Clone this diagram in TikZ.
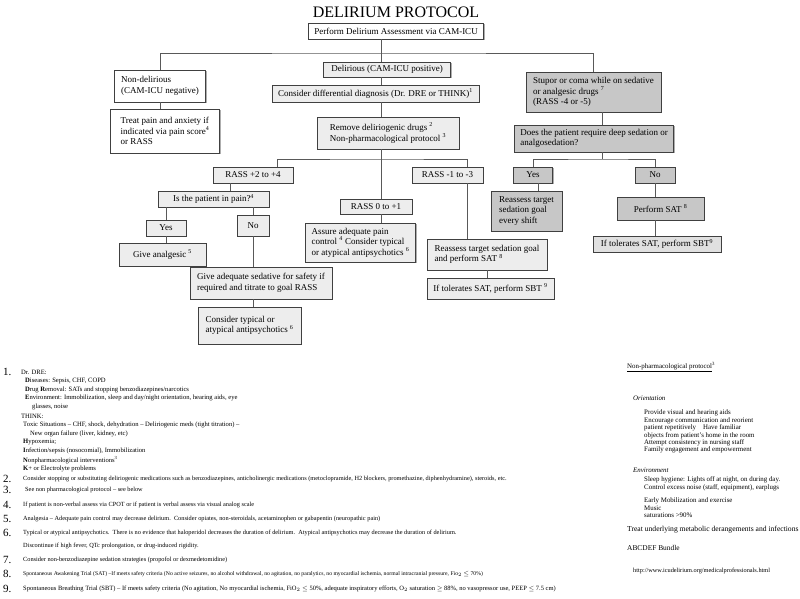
\documentclass[tikz,border=0pt]{standalone}
\usepackage{fontspec}
\setmainfont{Liberation Serif}
\usepackage{tikz}
\usetikzlibrary{
  calc,
  positioning,
  shadows
}

\newcommand\boxfont{\fontsize{9}{10.5}\selectfont}
\newcommand\notefont{\fontsize{6.3}{7.3}\selectfont}
\newcommand\drefont{\fontsize{6.6}{7.6}\selectfont}
\newcommand\sidefont{\fontsize{6.9}{7.9}\selectfont}
\newcommand\numfont{\fontsize{11}{12}\selectfont}

\tikzset{
  box/.style={draw=black!75,line width=0.7pt,inner xsep=6pt,inner ysep=2pt,font=\boxfont,align=left,
    drop shadow={shadow xshift=1.2pt,shadow yshift=-1.2pt,fill=black!45,opacity=0.7}},
  plainbox/.style={box,fill=white},
  lightbox/.style={box,fill=black!7},
  darkbox/.style={box,fill=black!22},
  wire/.style={draw=black!65,line width=0.8pt},
  note/.style={anchor=west,inner sep=0pt,font=\notefont},
  side/.style={anchor=west,inner sep=0pt,font=\sidefont}
}

\begin{document}
\begin{tikzpicture}[x=1pt,y=-1pt]
  \useasboundingbox (0,0) rectangle (800,599);
  \node[font=\fontsize{16}{18}\selectfont] at (396,12) (title) {DELIRIUM PROTOCOL};

  % assessment and first split
  \node[plainbox,minimum width=172pt,minimum height=16pt] at (396,31) (perform) {Perform Delirium Assessment via CAM-ICU};
  \node[plainbox,minimum width=91pt,minimum height=32pt] at (160,86) (nondel) {Non-delirious\\(CAM-ICU negative)};
  \node[plainbox,minimum width=109pt,minimum height=44pt] at (165,131) (treat) {Treat pain and anxiety if\\indicated via pain score\textsuperscript{4}\\or RASS};
  \node[lightbox,minimum width=127pt,minimum height=15pt] at (387,69.5) (delir) {Delirious (CAM-ICU positive)};
  \node[lightbox,minimum width=205pt,minimum height=17pt] at (375.5,93.5) (consider) {Consider differential diagnosis (Dr. DRE or THINK)\textsuperscript{1}};
  \node[lightbox,minimum width=142pt,minimum height=32pt] at (388,133) (remove) {Remove deliriogenic drugs \textsuperscript{2}\\Non-pharmacological protocol \textsuperscript{3}};
  \node[darkbox,minimum width=135pt,minimum height=40pt] at (593.5,92) (stupor) {Stupor or coma while on sedative\\or analgesic drugs \textsuperscript{7}\\(RASS -4 or -5)};
  \node[darkbox,minimum width=158pt,minimum height=27pt] at (594,138.5) (deep) {Does the patient require deep sedation or\\analgosedation?};

  % agitated branch
  \node[lightbox,minimum width=80pt,minimum height=16pt] at (253,175) (rassA) {RASS +2 to +4};
  \node[lightbox,minimum width=111pt,minimum height=16pt] at (213.5,199) (pain) {Is the patient in pain?\textsuperscript{4}};
  \node[lightbox,minimum width=40pt,minimum height=16pt] at (166,228) (yesL) {Yes};
  \node[lightbox,minimum width=32pt,minimum height=21pt] at (253,225.5) (noL) {No};
  \node[lightbox,minimum width=87pt,minimum height=23pt] at (162.5,254.5) (analg) {Give analgesic \textsuperscript{5}};
  \node[lightbox,minimum width=142pt,minimum height=32pt] at (261,283) (sedat) {Give adequate sedative for safety if\\required and titrate to goal RASS};
  \node[lightbox,minimum width=103pt,minimum height=37pt] at (249.5,325.5) (typical) {Consider typical or\\atypical antipsychotics \textsuperscript{6}};

  % calm and sedated branches
  \node[lightbox,minimum width=72pt,minimum height=15pt] at (376,206.5) (rassB) {RASS 0 to +1};
  \node[lightbox,minimum width=109pt,minimum height=39pt] at (360.5,242.5) (assure) {Assure adequate pain\\control \textsuperscript{4} Consider typical\\or atypical antipsychotics \textsuperscript{6}};
  \node[lightbox,minimum width=71pt,minimum height=16pt] at (447.5,175) (rassC) {RASS -1 to -3};
  \node[lightbox,minimum width=120pt,minimum height=31pt] at (487,254.5) (reassL) {Reassess target sedation goal\\and perform SAT \textsuperscript{8}};
  \node[lightbox,minimum width=127pt,minimum height=21pt] at (490.5,288.5) (sbtL) {If tolerates SAT, perform SBT \textsuperscript{9}};

  % stupor branch
  \node[darkbox,minimum width=39pt,minimum height=16pt] at (533,175) (yesR) {Yes};
  \node[darkbox,minimum width=40pt,minimum height=16pt] at (655,175) (noR) {No};
  \node[darkbox,minimum width=71pt,minimum height=40pt] at (526.5,211) (shift) {Reassess target\\sedation goal\\every shift};
  \node[darkbox,minimum width=87pt,minimum height=23pt] at (660.5,208.5) (sat) {Perform SAT \textsuperscript{8}};
  \node[box,fill=black!12,minimum width=128pt,minimum height=16pt] at (657,244) (sbtR) {If tolerates SAT, perform SBT\textsuperscript{9}};

  % connectors
  \coordinate (top) at (381,53);
  \coordinate (mid) at (381,159);
  \coordinate (rfork) at (602,159);
  \coordinate (rassAin) at (277,0);
  \coordinate (rassAout) at (230,0);
  \coordinate (rassCline) at (467,0);
  \coordinate (shiftin) at (538,0);
  \draw[wire] (top |- perform.south) -- (top);
  \draw[wire] (nondel.north) |- (top) -| (stupor.north);
  \draw[wire] (nondel.south) -- (nondel.south |- treat.north);
  \draw[wire] (top) -- (top |- delir.north);
  \draw[wire] (top |- delir.south) -- (top |- consider.north);
  \draw[wire] (top |- consider.south) -- (top |- remove.north);
  \draw[wire] (top |- remove.south) -- (top |- rassB.north);
  \draw[wire] (top |- rassB.south) -- (top |- assure.north);
  \draw[wire] (rassAin |- rassA.north) |- (mid) -| (rassCline |- rassC.north);
  \draw[wire] (rassCline |- rassC.south) -- (rassCline |- reassL.north);
  \draw[wire] (rassAout |- rassA.south) -- (rassAout |- pain.north);
  \draw[wire] (yesL.north |- pain.south) -- (yesL.north);
  \draw[wire] (noL.north |- pain.south) -- (noL.north);
  \draw[wire] (yesL.south) -- (yesL.south |- analg.north);
  \draw[wire] (noL.south) -- (noL.south |- sedat.north);
  \draw[wire] (noL.south |- sedat.south) -- (noL.south |- typical.north);
  \draw[wire] (reassL.south) -- (reassL.south |- sbtL.north);
  \draw[wire] (rfork |- stupor.south) -- (rfork |- deep.north);
  \draw[wire] (rfork |- deep.south) -- (rfork);
  \draw[wire] (yesR.north) |- (rfork) -| (noR.north);
  \draw[wire] (shiftin |- yesR.south) -- (shiftin |- shift.north);
  \draw[wire] (noR.south) -- (noR.south |- sat.north);
  \draw[wire] (noR.south |- sat.south) -- (noR.south |- sbtR.north);

  % footnotes
  \foreach \n/\y in {1/372,2/479,3/490,4/505,5/519,6/533,7/560,8/574,9/589}
    \node[font=\numfont,anchor=west,inner sep=0pt] (num\n) at (3,\y) {\n.};
  \foreach \t [count=\i] in {Dr. DRE:,
      {\hspace*{4pt}\textbf{D}iseases: Sepsis, CHF, COPD},
      {\hspace*{4pt}\textbf{D}rug \textbf{R}emoval: SATs and stopping benzodiazepines/narcotics},
      {\hspace*{4pt}\textbf{E}nvironment: Immobilization, sleep and day/night orientation, hearing aids, eye},
      {\hspace*{11pt}glasses, noise},
      THINK:,
      {\hspace*{2pt}Toxic Situations -- CHF, shock, dehydration -- Deliriogenic meds (tight titration) --},
      {\hspace*{9pt}New organ failure (liver, kidney, etc)},
      {\hspace*{2pt}\textbf{H}ypoxemia;},
      {\hspace*{2pt}\textbf{I}nfection/sepsis (nosocomial), Immobilization},
      {\hspace*{2pt}\textbf{N}onpharmacological interventions\textsuperscript{3}},
      {\hspace*{2pt}\textbf{K}+ or Electrolyte problems}}
    \node[note,font=\drefont] (dre\i) at (21,363.2+8.8*\i) {\t};
  \node[note] (note2) at (23,479) {Consider stopping or substituting deliriogenic medications such as benzodiazepines, anticholinergic medications (metoclopramide, H2 blockers, promethazine, diphenhydramine), steroids, etc.};
  \node[note] (note3) at (25,490) {See non pharmacological protocol -- see below};
  \node[note] (note4) at (23,505) {If patient is non-verbal assess via CPOT or if patient is verbal assess via visual analog scale};
  \node[note] (note5) at (23,519) {Analgesia -- Adequate pain control may decrease delirium.\ \ Consider opiates, non-steroidals, acetaminophen or gabapentin (neuropathic pain)};
  \node[note] (note6) at (23,533) {Typical or atypical antipsychotics.\ \ There is no evidence that haloperidol decreases the duration of delirium.\ \ Atypical antipsychotics may decrease the duration of delirium.};
  \node[note] (note6b) at (23,546) {Discontinue if high fever, QTc prolongation, or drug-induced rigidity.};
  \node[note] (note7) at (23,560) {Consider non-benzodiazepine sedation strategies (propofol or dexmedetomidine)};
  \node[note,font=\fontsize{5.7}{6.7}\selectfont] (note8) at (23,574) {Spontaneous Awakening Trial (SAT) --If meets safety criteria (No active seizures, no alcohol withdrawal, no agitation, no paralytics, no myocardial ischemia, normal intracranial pressure, Fio$_2$ $\leq$ 70\%)};
  \node[note,font=\fontsize{6.5}{7.5}\selectfont] (note9) at (23,589) {Spontaneous Breathing Trial (SBT) -- If meets safety criteria (No agitation, No myocardial ischemia, FiO$_2$ $\leq$ 50\%, adequate inspiratory efforts, O$_2$ saturation $\geq$ 88\%, no vasopressor use, PEEP $\leq$ 7.5 cm)};

  % non-pharmacological protocol
  \foreach \x/\y/\t [count=\i] in {627/367/{\underline{Non-pharmacological protocol}\textsuperscript{3}},
      633/398/{\textit{Orientation}},
      644/413/{Provide visual and hearing aids},
      644/421/{Encourage communication and reorient},
      644/428/{patient repetitively\quad Have familiar},
      644/436/{objects from patient's home in the room},
      644/443/{Attempt consistency in nursing staff},
      644/450/{Family engagement and empowerment},
      633/470/{\textit{Environment}},
      644/480/{Sleep hygiene: Lights off at night, on during day.},
      644/488/{Control excess noise (staff, equipment), earplugs},
      644/501/{Early Mobilization and exercise},
      644/508/{Music},
      644/515/{saturations >90\%},
      627/530/{\fontsize{7.6}{8.6}\selectfont Treat underlying metabolic derangements and infections},
      627/548/{\fontsize{7.4}{8.4}\selectfont ABCDEF Bundle},
      633/571/{\fontsize{6.3}{7.3}\selectfont http://www.icudelirium.org/medicalprofessionals.html}}
    \node[side] (np\i) at (\x,\y) {\t};
\end{tikzpicture}
\end{document}
